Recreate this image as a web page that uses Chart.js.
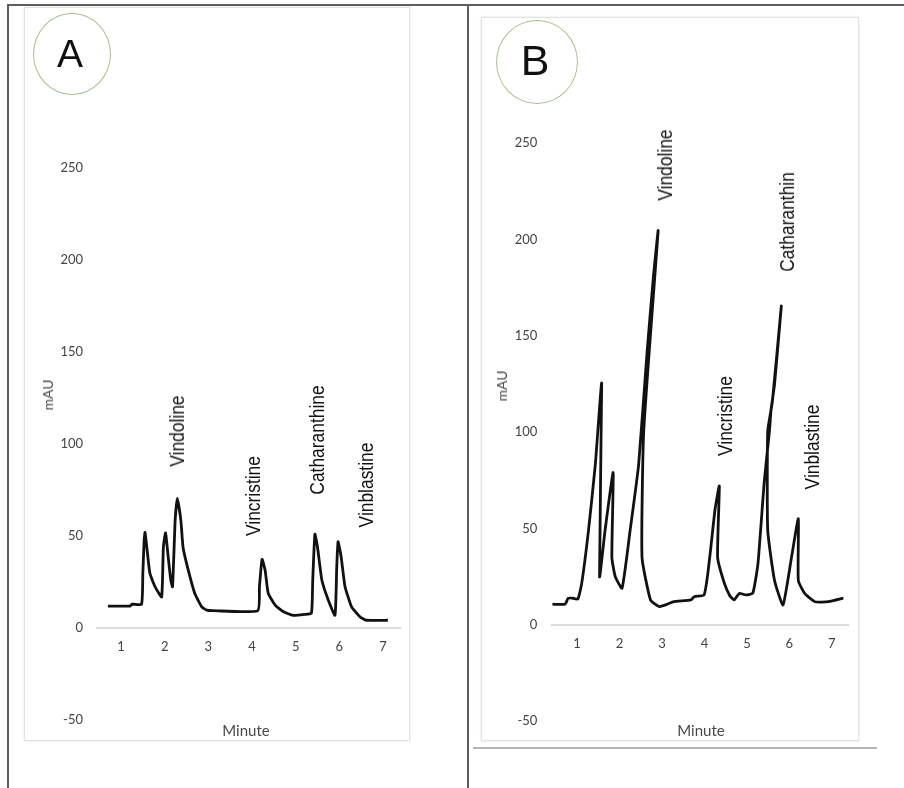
<!DOCTYPE html>
<html>
<head>
<meta charset="utf-8">
<script src="https://cdn.jsdelivr.net/npm/chart.js@4.4.1/dist/chart.umd.min.js"></script>
<style>
  body { margin: 0; width: 904px; height: 788px; background: #fff; position: relative; overflow: hidden; font-family: 'Liberation Sans', Arial, sans-serif; }
  .rule { position: absolute; background: #5e5e5e; }
  .card { position: absolute; box-sizing: border-box; border: 1px solid #e3e3e3; box-shadow: 0 0 2px rgba(0,0,0,0.12); background: #fff; }
  canvas { position: absolute; }
  .badge { position: absolute; box-sizing: border-box; border: 1.6px solid #a9bf91; border-radius: 50%; }
  .letter { position: absolute; transform: translate(-50%, -50%); line-height: 1; color: #111; }
  .peak { position: absolute; font-family: 'Liberation Sans Narrow', 'Liberation Sans', sans-serif; font-size: 20px; line-height: 1; color: #111;
          writing-mode: vertical-rl; transform: translate(-50%, -50%) rotate(180deg) scaleY(0.87); white-space: nowrap; }
  .ytitle { position: absolute; font-family: Lato, sans-serif; font-size: 14px; color: #4a4a4a; line-height: 1;
            writing-mode: vertical-rl; transform: translate(-50%, -50%) rotate(180deg); }
  .xtitle { position: absolute; font-family: Lato, sans-serif; font-size: 15px; color: #4a4a4a; line-height: 1; transform: translate(-50%, -50%); }
</style>
</head>
<body>
<div class="rule" style="left:7px; top:4px; width:897px; height:2px"></div>
<div class="rule" style="left:7px; top:4px; width:2px; height:784px"></div>
<div class="rule" style="left:467px; top:4px; width:2px; height:784px"></div>

<div class="card" style="left:24px; top:7px; width:386px; height:734px"></div>
<div class="card" style="left:481px; top:17px; width:378px; height:724px"></div>
<div class="rule" style="left:473px; top:747px; width:404px; height:2px; background:#b5b5b5"></div>

<canvas id="chartA" width="385" height="735" style="left:24px; top:7px"></canvas>
<canvas id="chartB" width="377" height="727" style="left:481px; top:17px"></canvas>

<div class="badge" style="left:33px; top:13px; width:78px; height:82px"></div>
<div class="letter" style="left:70px; top:53px; font-size:39px">A</div>
<div class="badge" style="left:496px; top:20px; width:82px; height:84px"></div>
<div class="letter" style="left:535px; top:60px; font-size:43px">B</div>

<div id="labels"></div>

<div class="ytitle" style="left:48px; top:395px">mAU</div>
<div class="xtitle" style="left:246px; top:730px">Minute</div>
<div class="ytitle" style="left:502px; top:386px">mAU</div>
<div class="xtitle" style="left:701px; top:730px">Minute</div>

<script>
// axis ticks
const minuteTicks = [1, 2, 3, 4, 5, 6, 7]
const mauTicks = [-50, 0, 50, 100, 150, 200, 250]

// chromatogram A (retention time in minutes, absorbance in mAU)
const minutesA = [0.70, 1.21, 1.25, 1.47, 1.50, 1.53, 1.55, 1.59, 1.66, 1.78, 1.93, 1.97, 2.02, 2.08, 2.14, 2.18, 2.24, 2.29,
  2.37, 2.42, 2.54, 2.69, 2.85, 2.96, 3.10, 4.13, 4.17, 4.23, 4.30, 4.37, 4.53, 4.72, 4.94, 5.20, 5.36, 5.39, 5.44,
  5.50, 5.60, 5.75, 5.90, 5.94, 5.97, 6.04, 6.13, 6.28, 6.47, 6.62, 7.11]
const mauA = [12, 12, 13, 13, 30, 48, 52, 44, 30, 22.5, 17, 44, 51.8, 38.8, 26, 22.5, 58.7, 70.5,
  58.7, 44, 31.5, 18.8, 11.6, 9.8, 9.5, 9.5, 22.5, 37.4, 31.5, 19, 12.5, 8.9, 7, 7.5, 8.2, 26, 51,
  44, 26, 15, 7, 33, 47, 38.8, 22.5, 11.6, 6.2, 4.3, 4.3]

// chromatogram B
const minutesB = [0.40, 0.72, 0.79, 0.90, 1.02, 1.11, 1.27, 1.43, 1.58, 1.53, 1.66, 1.85, 1.82, 1.90, 2.06, 2.25, 2.45, 2.65,
  2.80, 2.91, 2.57, 2.53, 2.73, 2.93, 3.10, 3.28, 3.68, 3.76, 3.99, 4.07, 4.15, 4.25, 4.35, 4.31, 4.47, 4.60, 4.70,
  4.82, 4.98, 5.14, 5.26, 5.41, 5.53, 5.57, 5.65, 5.81, 5.60, 5.49, 5.49, 5.65, 5.85, 6.05, 6.21, 6.21, 6.36, 6.60, 6.92, 7.27]
const mauB = [10.7, 10.7, 13.8, 13.8, 13.4, 21.5, 49, 83, 125.4, 25, 49, 79, 35, 25, 19, 49, 83, 141.8,
  181, 204.5, 100.5, 35, 12.9, 9.5, 10.5, 12, 12.9, 14.6, 15.5, 25, 40, 60, 72, 35, 21.5, 15, 12.9,
  16.3, 15.5, 16.5, 31.8, 74.7, 100.5, 112, 124.6, 165.5, 116, 100.5, 49, 23, 10.3, 35, 55, 23, 16.3, 12, 12, 13.8]

const peakNamesA = ['Vindoline', 'Vincristine', 'Catharanthine', 'Vinblastine']
const peakNamesB = ['Vindoline', 'Vincristine', 'Catharanthin', 'Vinblastine']

// where the peak names sit on the page (centre x, centre y)
const labelSpotsA = [[177, 431], [253, 496], [317, 440], [366, 485]]
const labelSpotsB = [[665, 165], [725, 416], [787, 222], [812, 447]]

const labels = document.getElementById('labels')
const putLabels = (names, spots) => {
  names.forEach((name, i) => {
    const el = document.createElement('div')
    el.className = 'peak'
    el.style.left = spots[i][0] + 'px'
    el.style.top = spots[i][1] + 'px'
    el.textContent = name
    labels.append(el)
  })
}
putLabels(peakNamesA, labelSpotsA)
putLabels(peakNamesB, labelSpotsB)

const tickFont = { family: 'Lato', size: 13 }

// zeroDash leaves the small break the original axis line has near 6.5 min
const makeChart = (id, xs, ys, xMin, xMax, axisWidth, padding, yPad, zeroDash) => {
  return new Chart(document.getElementById(id), {
    type: 'line',
    data: {
      datasets: [{
        data: xs.map((x, i) => ({ x: x, y: ys[i] })),
        borderColor: '#111',
        borderWidth: 2.8,
        pointRadius: 0,
        tension: 0.15,
        fill: false
      }]
    },
    options: {
      responsive: false,
      animation: false,
      layout: { padding: padding },
      plugins: { legend: { display: false }, tooltip: { enabled: false } },
      scales: {
        x: {
          type: 'linear',
          position: { y: 0 },
          min: xMin,
          max: xMax,
          afterBuildTicks: (s) => { s.ticks = minuteTicks.map((v) => ({ value: v })) },
          grid: { display: false, drawTicks: false },
          border: { display: true, color: '#dcdcdc', width: 2, dash: zeroDash },
          ticks: { padding: 11, color: '#444', font: tickFont, maxRotation: 0, autoSkip: false }
        },
        y: {
          type: 'linear',
          min: -50,
          max: 250,
          afterBuildTicks: (s) => { s.ticks = mauTicks.map((v) => ({ value: v })) },
          afterFit: (s) => { s.width = axisWidth },
          grid: { display: false, drawTicks: false },
          border: { display: false },
          ticks: { padding: yPad, color: '#444', font: tickFont }
        }
      }
    }
  })
}

makeChart('chartA', minutesA, mauA, 0.45, 7.40, 73, { left: 0, right: 8.5, top: 161, bottom: 0 }, 14, [260, 6, 400, 0])
makeChart('chartB', minutesB, mauB, 0.42, 7.38, 71.4, { left: 0, right: 10, top: 126, bottom: 0 }, 15, [255, 4, 400, 0])
</script>
</body>
</html>
